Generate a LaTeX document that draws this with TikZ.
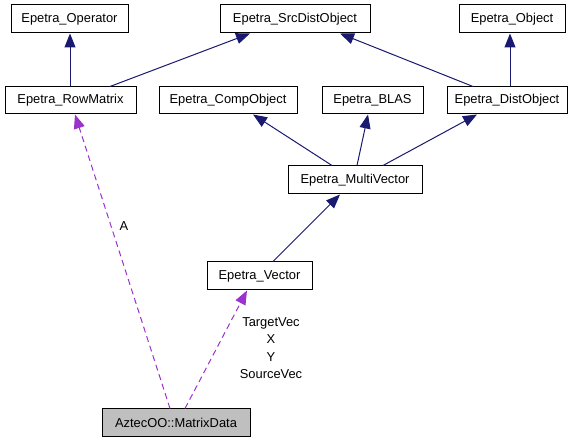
\documentclass[tikz,border=0pt]{standalone}
\usepackage{fontspec}
\setmainfont{Liberation Sans}
\usetikzlibrary{arrows.meta}
\definecolor{navyedge}{HTML}{191970}
\definecolor{purpedge}{HTML}{9A32CD}
\definecolor{grayfill}{HTML}{BFBFBF}
\tikzset{
  cls/.style={draw=black, line width=1pt, fill=white, inner sep=0pt, font=\fontsize{12.9}{15}\selectfont, minimum height=28pt},
  inh/.style={draw=navyedge, line width=1pt, -{Triangle[length=14pt,width=11pt]}},
  use/.style={draw=purpedge, line width=1pt, dash pattern=on 6pt off 4pt, -{Triangle[length=14pt,width=11pt]}},
  lbl/.style={font=\fontsize{12.9}{15}\selectfont, inner sep=0pt, align=center}
}
\begin{document}
\begin{tikzpicture}[x=1pt,y=-1pt]
\useasboundingbox (0,0) rectangle (581,443);
\node[cls, minimum width=117pt] (op) at (69.5,19) {Epetra\_Operator};
\node[cls, minimum width=150pt] (src) at (295,19) {Epetra\_SrcDistObject};
\node[cls, minimum width=106pt] (obj) at (512,19) {Epetra\_Object};
\node[cls, minimum width=131pt, minimum height=27pt] (row) at (70.5,100.5) {Epetra\_RowMatrix};
\node[cls, minimum width=138pt, minimum height=27pt] (comp) at (228,100.5) {Epetra\_CompObject};
\node[cls, minimum width=101pt, minimum height=27pt] (blas) at (372.5,100.5) {Epetra\_BLAS};
\node[cls, minimum width=120pt, minimum height=27pt] (dist) at (507,100.5) {Epetra\_DistObject};
\node[cls, minimum width=134pt] (mv) at (355,180) {Epetra\_MultiVector};
\node[cls, minimum width=105pt] (vec) at (259.5,276) {Epetra\_Vector};
\node[cls, fill=grayfill, minimum width=148pt, minimum height=27pt] (md) at (176,422.5) {AztecOO::MatrixData};

\draw[inh] ([xshift=-0.5pt]row.north) -- ([xshift=0.5pt]op.south);
\draw[inh] ([xshift=39.5pt]row.north) -- ([xshift=-45pt]src.south);
\draw[inh] ([xshift=-34pt]dist.north) -- ([xshift=45pt]src.south);
\draw[inh] ([xshift=3pt]dist.north) -- ([xshift=-2pt]obj.south);
\draw[inh] ([xshift=-23pt]mv.north) -- ([xshift=25pt]comp.south);
\draw[inh] ([xshift=2pt]mv.north) -- ([xshift=-4.5pt]blas.south);
\draw[inh] ([xshift=28pt]mv.north) -- ([xshift=-30pt]dist.south);
\draw[inh] ([xshift=13.5pt]vec.north) -- ([xshift=-15pt]mv.south);
\draw[use] ([xshift=-6pt]md.north) -- ([xshift=4.5pt]row.south);
\draw[use] ([xshift=9pt]md.north) -- ([xshift=-12.5pt]vec.south);
\node[lbl] (labA) at (124,226.5) {A};
\node[lbl] (labV) at (271,348) {TargetVec\\[2.3pt]X\\[2.3pt]Y\\[2.3pt]SourceVec};
\end{tikzpicture}
\end{document}
